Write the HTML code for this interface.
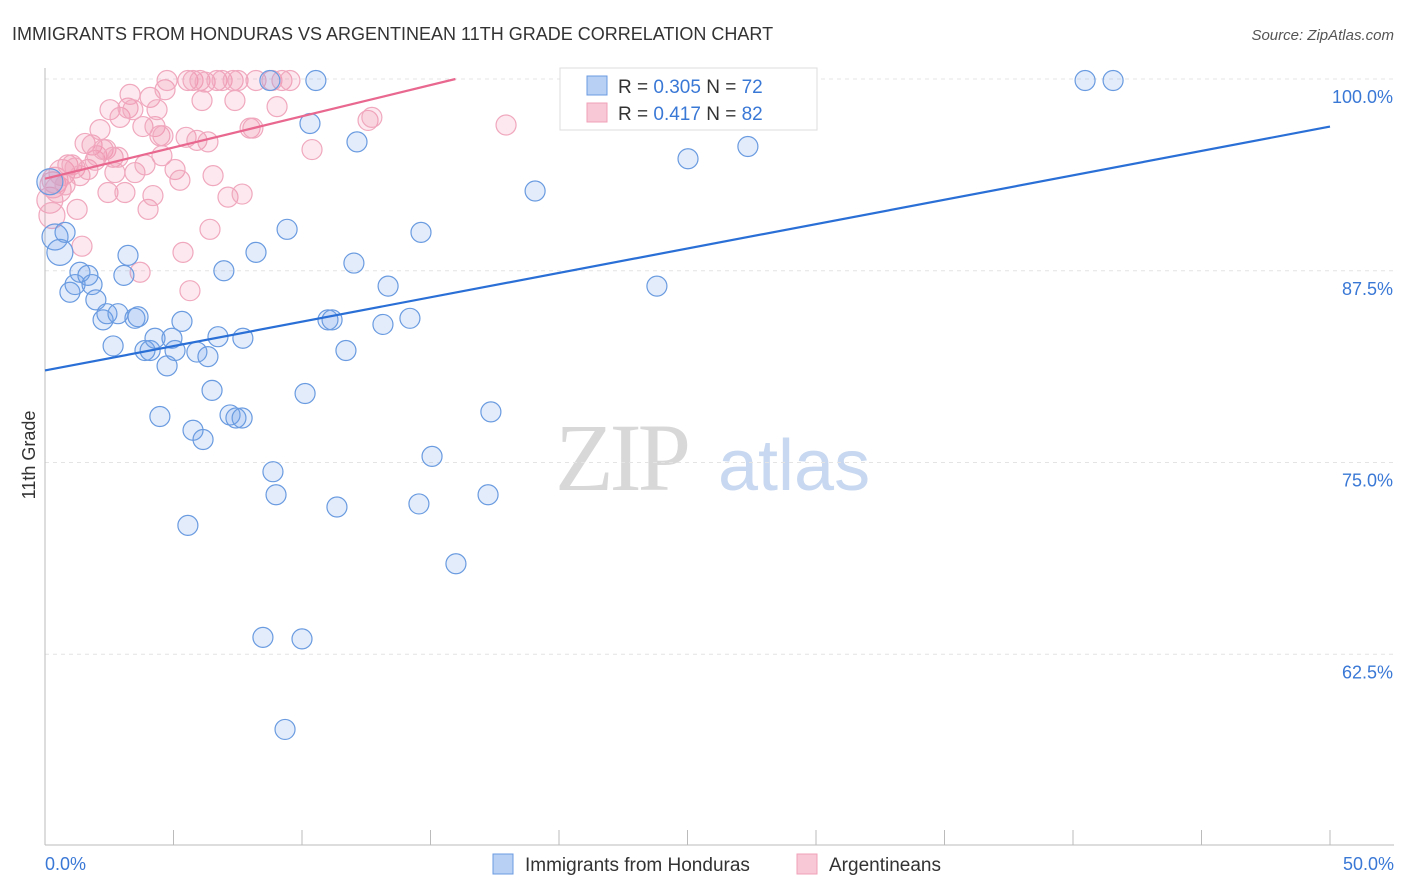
<!DOCTYPE html>
<html><head><meta charset="utf-8"><style>
body{margin:0;background:#fff;font-family:"Liberation Sans",sans-serif}
svg{display:block}
</style></head><body>
<svg id="chart" width="1406" height="892" xmlns="http://www.w3.org/2000/svg">
<text x="12" y="40" font-size="18" fill="#333">IMMIGRANTS FROM HONDURAS VS ARGENTINEAN 11TH GRADE CORRELATION CHART</text>
<text x="1394" y="40" font-size="15" fill="#555" font-style="italic" text-anchor="end">Source: ZipAtlas.com</text>
<text x="35" y="455" font-size="18" fill="#333" transform="rotate(-90 35 455)" text-anchor="middle">11th Grade</text>
<g><text x="555" y="490" font-size="96" fill="#d8d8d8" font-family="Liberation Serif,serif" letter-spacing="-4">ZIP</text><text x="718" y="490" font-size="72" fill="#c8d8f0">atlas</text></g>
<g id="grid"></g><g id="axes"></g><g id="pts"></g><g id="lines"></g>
<g>
<rect x="560" y="68" width="257" height="62" fill="#fff" stroke="#ddd"/>
<rect x="587" y="76" width="20" height="19" fill="#b8d0f4" stroke="#6a9be0"/>
<text x="618" y="93" font-size="19" fill="#333">R = <tspan fill="#3a78d6">0.305</tspan>   N = <tspan fill="#3a78d6">72</tspan></text>
<rect x="587" y="103" width="20" height="19" fill="#f8c8d6" stroke="#f0a0b8"/>
<text x="618" y="120" font-size="19" fill="#333">R =  <tspan fill="#3a78d6">0.417</tspan>   N = <tspan fill="#3a78d6">82</tspan></text>
</g>
<g>
<rect x="493" y="854" width="20" height="20" fill="#b8d0f4" stroke="#6a9be0"/>
<text x="525" y="871" font-size="19" fill="#333">Immigrants from Honduras</text>
<rect x="797" y="854" width="20" height="20" fill="#f8c8d6" stroke="#f0a0b8"/>
<text x="829" y="871" font-size="19" fill="#333">Argentineans</text>
</g>
</svg>
<script>
const yTicks=[100,87.5,75,62.5];
const yTickLabels=["100.0%","87.5%","75.0%","62.5%"];
const xLabels=["0.0%","50.0%"];
const blueX=[0.39,0.58,0.78,0.97,1.17,1.36,1.67,1.83,1.98,2.26,2.41,2.65,2.84,3.07,3.23,3.50,3.62,3.89,4.09,4.28,4.47,4.75,4.94,5.06,5.33,5.56,5.76,5.91,6.15,6.34,6.50,6.73,6.96,7.20,7.43,7.67,7.70,8.21,8.48,8.75,8.87,8.99,9.34,9.42,10.0,10.12,10.31,10.54,11.01,11.17,11.36,11.71,12.02,12.14,13.15,13.35,14.20,14.55,14.63,15.06,15.99,17.24,17.35,19.07,23.81,24.44,25.02,27.35,28.21,40.47,41.56,0.19];
const blueY=[89.7,88.7,90.0,86.1,86.6,87.4,87.2,86.6,85.6,84.3,84.7,82.6,84.7,87.2,88.5,84.4,84.5,82.3,82.3,83.1,78.0,81.3,83.1,82.3,84.2,70.9,77.1,82.2,76.5,81.9,79.7,83.2,87.5,78.1,77.9,77.9,83.1,88.7,63.6,99.9,74.4,72.9,57.6,90.2,63.5,79.5,97.1,99.9,84.3,84.3,72.1,82.3,88.0,95.9,84.0,86.5,84.4,72.3,90.0,75.4,68.4,72.9,78.3,92.7,86.5,99.9,94.8,95.6,99.9,99.9,99.9,93.3];
const pinkX=[0.19,0.27,0.31,0.39,0.51,0.66,0.78,0.89,1.05,1.17,1.25,1.36,1.44,1.56,1.67,1.83,1.95,2.02,2.14,2.26,2.37,2.45,2.53,2.65,2.72,2.84,2.92,3.11,3.23,3.31,3.42,3.50,3.70,3.81,3.89,4.01,4.09,4.20,4.28,4.36,4.47,4.55,4.59,4.67,4.75,5.06,5.25,5.37,5.49,5.56,5.64,5.76,5.91,6.03,6.11,6.23,6.34,6.42,6.54,6.69,6.89,7.12,7.32,7.39,7.51,7.67,7.98,8.09,8.21,8.83,9.03,9.22,9.53,10.39,12.57,12.72,17.94];
const pinkY=[92.1,91.1,93.1,93.4,92.8,93.9,93.1,94.4,94.4,94.2,91.5,93.7,89.1,95.8,94.1,95.7,94.7,95.0,96.7,95.4,95.4,92.6,98.0,94.9,93.9,94.9,97.5,92.6,98.1,99.0,98.0,93.9,87.4,96.9,94.4,91.5,98.8,92.4,96.9,98.0,96.3,95.0,96.3,99.3,99.9,94.1,93.4,88.7,96.2,99.9,86.2,99.9,96.0,99.9,98.6,99.8,95.9,90.2,93.7,99.9,99.9,92.3,99.9,98.6,99.9,92.5,96.8,96.8,99.9,99.9,98.2,99.9,99.9,95.4,97.3,97.5,97.0];
const blueLine=[0,81.0,50,96.9];
const pinkLine=[0,93.5,15.97,100];
const NS="http://www.w3.org/2000/svg";
const xs=v=>45+v*25.7, ys=v=>79+(100-v)*15.34;
function mk(t,a,p){const e=document.createElementNS(NS,t);for(const k in a)e.setAttribute(k,a[k]);document.getElementById(p).appendChild(e);return e;}
yTicks.forEach((t,i)=>{
 const g=mk('line',{x1:45,x2:1394,y1:ys(t),y2:ys(t),stroke:'#e4e4e4','stroke-dasharray':'4,4'},'grid');
 
 
 const l=mk('text',{x:1393,y:ys(t)+24,'font-size':18,fill:'#3a78d6','text-anchor':'end'},'axes');
 l.textContent=yTickLabels[i];
 
 
});
const ax=mk('line',{x1:45,x2:1394,y1:845,y2:845,stroke:'#bbb'},'axes');


const ay=mk('line',{x1:45,x2:45,y1:68,y2:845,stroke:'#bbb'},'axes');


for(let i=0;i<=10;i++){const t=mk('line',{x1:xs(i*5),x2:xs(i*5),y1:830,y2:845,stroke:'#bbb'},'axes');
 
 }
[[0,'start',45],[50,'end',1394]].forEach((d,i)=>{const l=mk('text',{x:d[2],y:870,'font-size':18,fill:'#3a78d6','text-anchor':d[1]},'axes');l.textContent=xLabels[i];
 
 });
function dots(X,Y,fill,stroke,name){X.forEach((x,i)=>{const r=(x<0.7)?13:10;
 const c=mk('circle',{cx:xs(x),cy:ys(Y[i]),r:r,fill:fill,stroke:stroke,'stroke-width':1.2},'pts');
 
 });}
dots(pinkX,pinkY,'rgba(240,140,170,0.2)','#f0a8be','argentinean-point');
dots(blueX,blueY,'rgba(110,160,235,0.2)','#6a9be0','honduras-point');
const bl=mk('line',{x1:xs(blueLine[0]),y1:ys(blueLine[1]),x2:xs(blueLine[2]),y2:ys(blueLine[3]),stroke:'#2a6fd6','stroke-width':2.2},'lines');


const pl=mk('line',{x1:xs(pinkLine[0]),y1:ys(pinkLine[1]),x2:xs(pinkLine[2]),y2:ys(pinkLine[3]),stroke:'#e86890','stroke-width':2.2},'lines');


</script>
</body></html>
